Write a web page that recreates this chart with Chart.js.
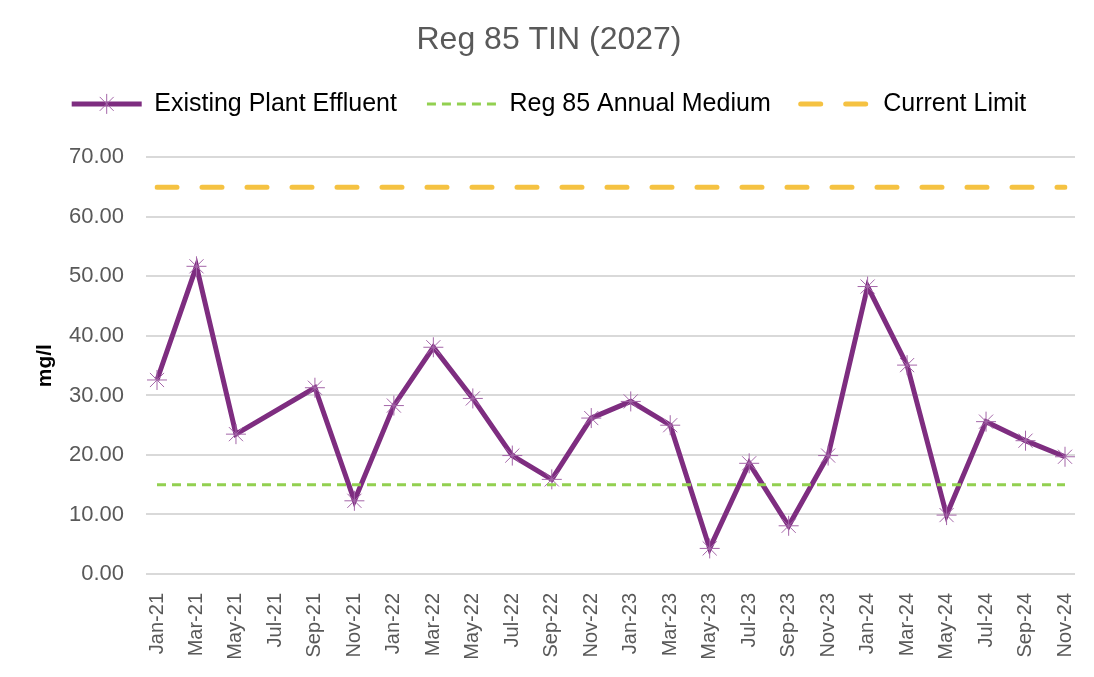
<!DOCTYPE html>
<html>
<head>
<meta charset="utf-8">
<script src="https://cdn.jsdelivr.net/npm/chart.js@4"></script>
<style>
  html, body { margin: 0; padding: 0; background: #ffffff; }
  #wrap { width: 1094px; height: 677px; position: relative; }
</style>
</head>
<body>
<div id="wrap"><canvas id="tinChart"></canvas></div>
<script>
// --- Data ---
const months = ['Jan-21', 'Mar-21', 'May-21', 'Jul-21', 'Sep-21', 'Nov-21',
                'Jan-22', 'Mar-22', 'May-22', 'Jul-22', 'Sep-22', 'Nov-22',
                'Jan-23', 'Mar-23', 'May-23', 'Jul-23', 'Sep-23', 'Nov-23',
                'Jan-24', 'Mar-24', 'May-24', 'Jul-24', 'Sep-24', 'Nov-24'];
const plantEffluent = [32.6, 51.7, 23.5, null, 31.3, 12.3,
                       28.3, 38.1, 29.5, 19.9, 15.9, 26.2,
                       29.0, 25.0, 4.3, 18.6, 8.1, 19.9,
                       48.3, 35.1, 9.9, 25.6, 22.4, 19.7];
const annualMedium = 15;
const currentLimit = 65;
const yTicks = { min: 0, max: 70, step: 10 };

// --- Colours ---
const purple = '#7E2D80';
const purpleMarker = '#A466A8';
const green = '#92D050';
const gold = '#F5C242';
const gridGray = '#D9D9D9';
const textGray = '#595959';

// horizontal gridlines run a little past the first/last point like Excel
const extendedGrid = {
    id: 'extendedGrid',
    beforeDatasetsDraw(chart) {
        const { ctx, chartArea, scales } = chart;
        ctx.save();
        ctx.strokeStyle = gridGray;
        ctx.lineWidth = 2;
        scales.y.ticks.forEach(t => {
            const y = Math.round(scales.y.getPixelForValue(t.value));
            ctx.beginPath();
            ctx.moveTo(chartArea.left - 11, y);
            ctx.lineTo(chartArea.right + 10, y);
            ctx.stroke();
        });
        ctx.restore();
    }
};

// extra room under the legend row
const legendSpace = {
    id: 'legendSpace',
    beforeInit(chart) {
        const origFit = chart.legend.fit;
        chart.legend.fit = function () {
            origFit.bind(chart.legend)();
            this.height += 31;
        };
    }
};

// asterisk marker on the first legend line
const legendStar = {
    id: 'legendStar',
    afterDraw(chart) {
        const box = chart.legend.legendHitBoxes[0];
        if (!box) return;
        const { ctx } = chart;
        const cx = box.left + 35;
        const cy = box.top + box.height / 2;
        const r = 10;
        ctx.save();
        ctx.strokeStyle = purpleMarker;
        ctx.lineWidth = 1;
        ctx.beginPath();
        ctx.moveTo(cx, cy - r); ctx.lineTo(cx, cy + r);
        ctx.moveTo(cx - r * 0.7, cy - r * 0.7); ctx.lineTo(cx + r * 0.7, cy + r * 0.7);
        ctx.moveTo(cx - r * 0.7, cy + r * 0.7); ctx.lineTo(cx + r * 0.7, cy - r * 0.7);
        ctx.stroke();
        ctx.restore();
    }
};

document.addEventListener('DOMContentLoaded', function () {
    const ctx = document.getElementById('tinChart');
    new Chart(ctx, {
        type: 'line',
        data: {
            labels: months,
            datasets: [{
                label: 'Existing Plant Effluent',
                data: plantEffluent,
                borderColor: purple,
                borderWidth: 5,
                pointStyle: 'star',
                pointRadius: 10,
                pointBorderColor: purpleMarker,
                pointBorderWidth: 1,
                pointBackgroundColor: purpleMarker,
                spanGaps: true,
                tension: 0,
                order: 2
            }, {
                label: 'Reg 85 Annual Medium',
                data: months.map(() => annualMedium),
                borderColor: green,
                borderWidth: 3,
                borderDash: [9, 6],
                pointRadius: 0,
                order: 1
            }, {
                label: 'Current Limit',
                data: months.map(() => currentLimit),
                borderColor: gold,
                borderWidth: 5,
                borderDash: [20, 25],
                borderCapStyle: 'round',
                pointRadius: 0,
                order: 0
            }]
        },
        options: {
            responsive: true,
            maintainAspectRatio: false,
            animation: false,
            layout: { padding: { left: 33, right: 29, top: 0, bottom: 0 } },
            plugins: {
                title: {
                    display: true,
                    text: 'Reg 85 TIN (2027)',
                    color: textGray,
                    font: { family: 'Liberation Sans', size: 32, weight: 'normal' },
                    padding: { top: 21, bottom: 2 }
                },
                legend: {
                    position: 'top',
                    labels: {
                        usePointStyle: true,
                        pointStyleWidth: 70,
                        padding: 30,
                        color: '#262626',
                        font: { family: 'Liberation Sans', size: 25 },
                        generateLabels: chart => chart.data.datasets.map((ds, i) => ({
                            text: ds.label,
                            datasetIndex: i,
                            fillStyle: ds.borderColor,
                            strokeStyle: ds.borderColor,
                            lineWidth: ds.borderWidth,
                            lineDash: ds.borderDash || [],
                            lineCap: ds.borderCapStyle || 'butt',
                            pointStyle: 'line',
                            hidden: false
                        }))
                    }
                },
                tooltip: { enabled: false }
            },
            scales: {
                x: {
                    offset: false,
                    grid: { display: false },
                    border: { display: false },
                    afterFit: s => {
                        s.height = 103;
                        s.paddingLeft = 0;
                        s.paddingRight = 0;
                    },
                    ticks: {
                        autoSkip: false,
                        minRotation: 90,
                        maxRotation: 90,
                        padding: 11,
                        color: textGray,
                        font: { family: 'Liberation Sans', size: 20 }
                    }
                },
                y: {
                    min: yTicks.min,
                    max: yTicks.max,
                    grid: { display: false },
                    border: { display: false },
                    afterFit: s => { s.width = 124; },
                    title: {
                        display: true,
                        text: 'mg/l',
                        color: '#000000',
                        font: { family: 'Liberation Sans', size: 21, weight: 'bold' },
                        padding: { top: 0, bottom: 0 }
                    },
                    ticks: {
                        stepSize: yTicks.step,
                        padding: 25,
                        color: textGray,
                        font: { family: 'Liberation Sans', size: 22 },
                        callback: v => v.toFixed(2)
                    }
                }
            }
        },
        plugins: [extendedGrid, legendSpace, legendStar]
    });
});
</script>
</body>
</html>
